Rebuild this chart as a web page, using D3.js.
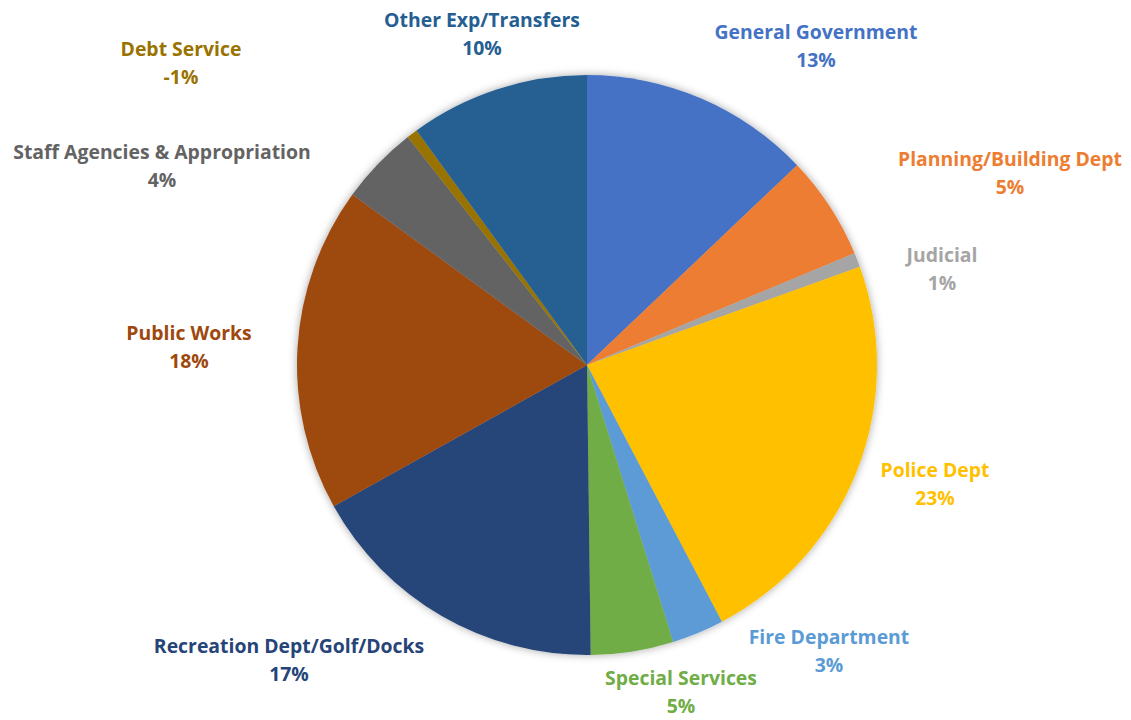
<!DOCTYPE html>
<html>
<head>
<meta charset="utf-8">
<script src="https://cdn.jsdelivr.net/npm/d3@7"></script>
<style>
  html, body { margin: 0; padding: 0; background: #fff; }
  svg { display: block; }
  text { font-family: "Open Sans", "Lato", sans-serif; font-weight: 700; }
</style>
</head>
<body>
<svg id="chart" width="1131" height="720"></svg>
<script>
// ---- data ----
const categories = ["General Government", "Planning/Building Dept", "Judicial", "Police Dept",
  "Fire Department", "Special Services", "Recreation Dept/Golf/Docks", "Public Works",
  "Staff Agencies & Appropriation", "Debt Service", "Other Exp/Transfers"];
const shares = [12.9, 5.8, 0.8, 22.8, 2.9, 4.6, 17.1, 18.1, 4.4, 0.6, 10.0];
const pctLabels = ["13%", "5%", "1%", "23%", "3%", "5%", "17%", "18%", "4%", "-1%", "10%"];
const colors = ["#4472C4", "#ED7D31", "#A5A5A5", "#FFC000", "#5B9BD5", "#70AD47",
  "#264478", "#9E480E", "#636363", "#997300", "#255E91"];

// ---- layout ----
const cx = 587, cy = 365, R = 290;
// label anchor points (center of two-line label)
const labelAt = [[816, 46], [1010, 173], [942, 269], [935, 484], [829, 651], [681, 692],
  [289, 660], [189, 347], [162, 166], [181, 63], [482, 34]];

const svg = d3.select("#chart");
const defs = svg.append("defs");
const f = defs.append("filter").attr("id", "shadow").attr("x", "-10%").attr("y", "-10%")
  .attr("width", "120%").attr("height", "120%");
f.append("feDropShadow").attr("dx", 0).attr("dy", 0).attr("stdDeviation", 4)
  .attr("flood-color", "#000").attr("flood-opacity", 0.35);

const pie = d3.pie().sort(null).value(d => d.v);
const data = categories.map((c, i) => ({ c, v: shares[i], p: pctLabels[i], col: colors[i], i }));
const arcs = pie(data);
const arc = d3.arc().innerRadius(0).outerRadius(R);

const g = svg.append("g").attr("transform", `translate(${cx},${cy})`);
g.append("g").attr("filter", "url(#shadow)")
  .selectAll("path").data(arcs).join("path")
  .attr("d", arc)
  .attr("fill", d => d.data.col);

const lab = svg.append("g").selectAll("text").data(arcs).join("text")
  .attr("text-anchor", "middle")
  .attr("fill", d => d.data.col)
  .style("font-size", "19.4px");
lab.append("tspan")
  .attr("x", d => labelAt[d.data.i][0]).attr("y", d => labelAt[d.data.i][1] - 14)
  .attr("dy", "0.35em").text(d => d.data.c);
lab.append("tspan")
  .attr("x", d => labelAt[d.data.i][0]).attr("y", d => labelAt[d.data.i][1] + 14)
  .attr("dy", "0.35em").text(d => d.data.p);
</script>
</body>
</html>
